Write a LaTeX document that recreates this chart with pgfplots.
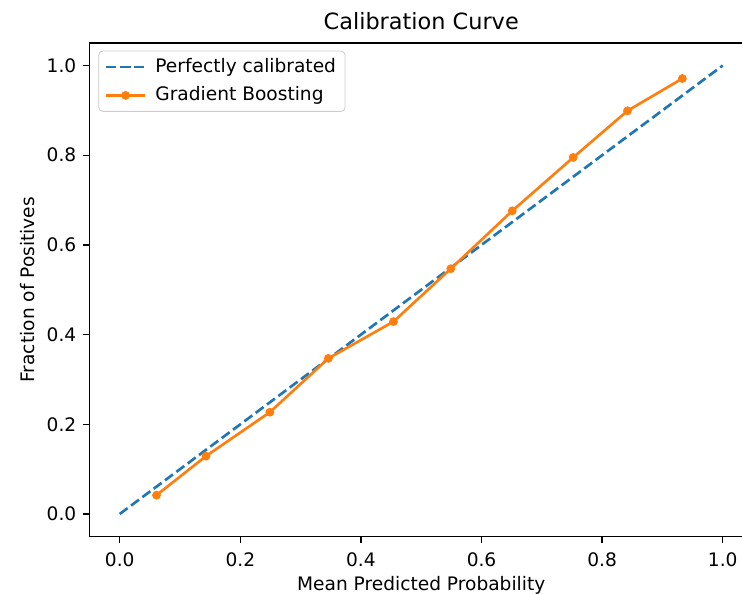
\documentclass[border=0pt]{standalone}
\usepackage{pgfplots}
\pgfplotsset{compat=1.18}
\usepackage{fontspec}
\setmainfont{DejaVu Sans}
\definecolor{mplblue}{HTML}{1F77B4}
\definecolor{mplorange}{HTML}{FF7F0E}
\newcommand{\tickfont}{\fontsize{9.3}{11}\selectfont}

\begin{document}
\begin{tikzpicture}
\begin{axis}[
    scale only axis,
    width=331.65pt, height=246.65pt,
    xmin=-0.05, xmax=1.05,
    ymin=-0.05, ymax=1.05,
    xtick={0,0.2,0.4,0.6,0.8,1.0},
    ytick={0,0.2,0.4,0.6,0.8,1.0},
    xtick pos=left, ytick pos=left,
    tick align=outside,
    major tick length=3.1pt,
    axis line style={line width=0.71pt},
    every tick/.style={black, line width=0.71pt},
    /pgf/number format/.cd, fixed, fixed zerofill, precision=1, assume math mode=true,
    /pgfplots/.cd,
    tick label style={font=\tickfont},
    xticklabel style={yshift=-1.5pt},
    every axis title shift=0pt,
    title={Calibration Curve},
    title style={at={(0.5,1.0266)}, anchor=base, font=\fontsize{11.2}{13}\selectfont},
    xlabel={Mean Predicted Probability},
    xlabel style={at={(0.5,-0.1087)}, anchor=base, font=\tickfont},
    ylabel={Fraction of Positives},
    ylabel style={at={(-0.094,0.5)}, anchor=center, font=\tickfont},
    legend cell align=left,
    legend style={at={(0.0132,0.9846)}, anchor=north west,
        draw=black!20, rounded corners=2pt, fill=white, fill opacity=0.8, text opacity=1,
        font=\tickfont, row sep=2.6pt, column sep=3pt, inner xsep=3pt, inner ysep=2.2pt,
        nodes={inner sep=1.5pt}},
    legend image code/.code={
        \draw[mark repeat=2, mark phase=2, #1]
        plot coordinates {(0cm,0cm) (0.343cm,0cm) (0.686cm,0cm)};},
]
\addplot[mplblue, line width=1.33pt, dash pattern=on 4.93pt off 2.13pt]
coordinates {(0,0) (1,1)};
\addlegendentry{Perfectly calibrated}

\addplot[mplorange, line width=1.33pt, mark=*, mark size=1.5pt,
    mark options={solid, fill=mplorange, draw=mplorange}]
coordinates {
    (0.061,0.042)
    (0.143,0.129)
    (0.249,0.227)
    (0.346,0.347)
    (0.454,0.429)
    (0.549,0.547)
    (0.651,0.676)
    (0.752,0.795)
    (0.842,0.899)
    (0.933,0.971)
};
\addlegendentry{Gradient Boosting}
\end{axis}
\pgfresetboundingbox
\path[use as bounding box] (-44.78pt,-28.3pt) rectangle (326.2pt,268.2pt);
\end{tikzpicture}
\end{document}
